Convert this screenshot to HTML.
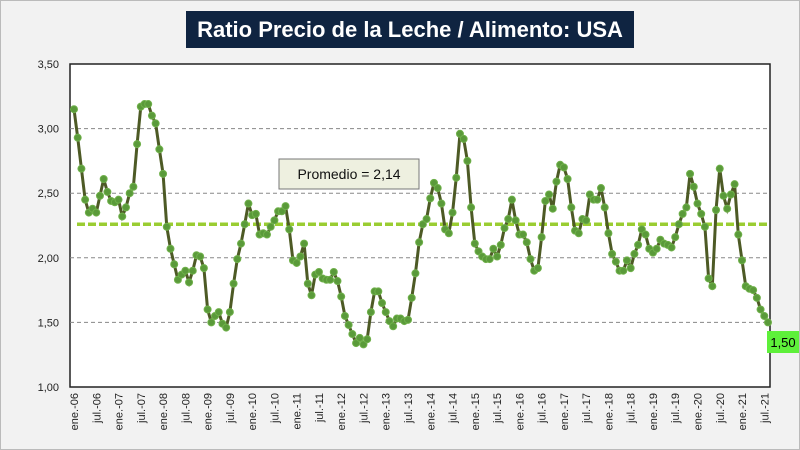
<!DOCTYPE html>
<html><head><meta charset="utf-8"><style>
body{margin:0;background:#f2f2f2;}
#wrap{position:relative;width:800px;height:450px;background:#f2f2f2;font-family:"Liberation Sans",sans-serif;overflow:hidden;border:1px solid #bbb;box-sizing:border-box}
#title{position:absolute;left:185px;top:10px;width:448px;height:37px;background:#0f2441;color:#fff;font-family:"Liberation Sans Narrow","Liberation Sans",sans-serif;font-weight:bold;font-size:22px;text-align:center;line-height:37px;}
</style></head><body>
<div id="wrap">
<div id="title">Ratio Precio de la Leche / Alimento: USA</div>
<svg id="svg" width="800" height="450" style="position:absolute;left:0;top:0"></svg>
</div>
<script>
const values=[3.15,2.93,2.69,2.45,2.35,2.38,2.35,2.48,2.61,2.51,2.44,2.43,2.45,2.32,2.39,2.50,2.55,2.88,3.17,3.19,3.19,3.10,3.04,2.84,2.65,2.24,2.07,1.95,1.83,1.87,1.90,1.81,1.90,2.02,2.01,1.92,1.60,1.50,1.55,1.58,1.49,1.46,1.58,1.80,1.99,2.11,2.26,2.42,2.33,2.34,2.18,2.19,2.18,2.24,2.29,2.36,2.36,2.40,2.22,1.98,1.96,2.01,2.11,1.80,1.71,1.87,1.89,1.84,1.83,1.83,1.89,1.82,1.70,1.55,1.48,1.41,1.34,1.38,1.33,1.37,1.58,1.74,1.74,1.65,1.58,1.51,1.47,1.53,1.53,1.51,1.52,1.69,1.88,2.12,2.26,2.30,2.46,2.58,2.54,2.42,2.22,2.19,2.35,2.62,2.96,2.92,2.75,2.39,2.11,2.05,2.01,1.99,1.99,2.07,2.01,2.10,2.23,2.30,2.45,2.29,2.18,2.18,2.12,1.99,1.90,1.92,2.16,2.44,2.49,2.38,2.59,2.72,2.70,2.61,2.39,2.21,2.19,2.30,2.29,2.49,2.45,2.45,2.54,2.39,2.19,2.03,1.97,1.90,1.90,1.98,1.92,2.03,2.10,2.22,2.18,2.07,2.04,2.07,2.14,2.11,2.10,2.08,2.16,2.26,2.34,2.39,2.65,2.55,2.42,2.34,2.24,1.84,1.78,2.37,2.69,2.48,2.38,2.49,2.57,2.18,1.98,1.78,1.76,1.75,1.69,1.60,1.55,1.50];
const yTicks=[1.0,1.5,2.0,2.5,3.0,3.5];
const yTickLabels=["1,00","1,50","2,00","2,50","3,00","3,50"];
const xLabels=["ene.-06","jul.-06","ene.-07","jul.-07","ene.-08","jul.-08","ene.-09","jul.-09","ene.-10","jul.-10","ene.-11","jul.-11","ene.-12","jul.-12","ene.-13","jul.-13","ene.-14","jul.-14","ene.-15","jul.-15","ene.-16","jul.-16","ene.-17","jul.-17","ene.-18","jul.-18","ene.-19","jul.-19","ene.-20","jul.-20","ene.-21","jul.-21"];
const avgLine=[2.26];
const avgText=["Promedio = 2,14"];
const NS="http://www.w3.org/2000/svg";
const svg=document.getElementById('svg');
const L=69,R=769,T=63,B=386,X0=73,X1=767;
const y=v=>B-(v-1)/(3.5-1)*(B-T);
const x=i=>X0+i*(X1-X0)/(values.length-1);
function mk(tag,attrs){const e=document.createElementNS(NS,tag);for(const k in attrs)e.setAttribute(k,attrs[k]);svg.appendChild(e);return e;}
let pa=mk('rect',{x:L,y:T,width:R-L,height:B-T,fill:'#fff',stroke:'#222','stroke-width':1.5});


yTicks.forEach((v,k)=>{
  if(v>1&&v<3.5){let g=mk('line',{x1:L,x2:R,y1:y(v),y2:y(v),stroke:'#888','stroke-dasharray':'4,3','stroke-width':1});
  
  }
  let t=mk('text',{x:58,y:y(v)+4,'text-anchor':'end','font-size':11,fill:'#222'});t.textContent=yTickLabels[k];
  
  
});
xLabels.forEach((s,k)=>{
  const xx=x(k*6);
  let t=mk('text',{transform:`translate(${xx+4},${B+6}) rotate(-90)`,'text-anchor':'end','font-size':11,fill:'#222'});t.textContent=s;
  
  
});
let al=mk('line',{x1:76,x2:R,y1:y(avgLine[0]),y2:y(avgLine[0]),stroke:'#9acd32','stroke-width':3.5,'stroke-dasharray':'8,3'});


let pts=values.map((v,i)=>x(i)+','+y(v)).join(' ');
let pl=mk('polyline',{points:pts,fill:'none',stroke:'#4d5a25','stroke-width':3});


values.forEach((v,i)=>{let c=mk('circle',{cx:x(i),cy:y(v),r:3.5,fill:'#5a9a3a',stroke:'#6fb04a','stroke-width':1});

});
let ab=mk('rect',{x:278,y:158,width:140,height:30,fill:'#eef0e0',stroke:'#777','stroke-width':1});


let at=mk('text',{x:348,y:178,'text-anchor':'middle','font-size':14,fill:'#111'});at.textContent=avgText[0];


let lb=mk('rect',{x:766,y:330,width:32,height:22,fill:'#5ef03a'});


let lt=mk('text',{x:782,y:346,'text-anchor':'middle','font-size':13,fill:'#000'});lt.textContent=values[values.length-1].toFixed(2).replace('.',',');


</script>
</body></html>
